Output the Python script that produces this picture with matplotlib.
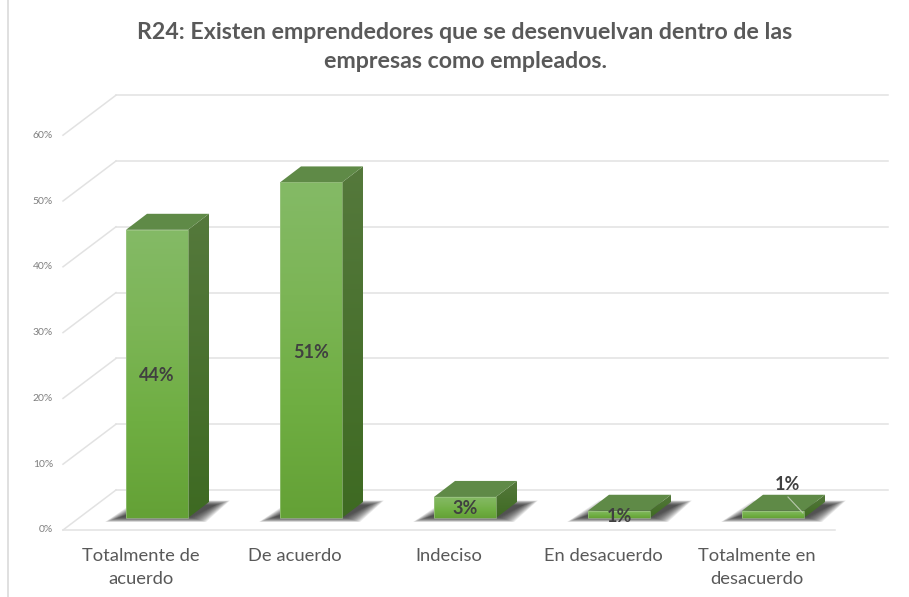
import numpy as np
from matplotlib import pyplot as plt
from matplotlib.colors import LinearSegmentedColormap

plt.rcParams['font.family'] = ['Lato', 'DejaVu Sans']

categories = ['Totalmente de\nacuerdo', 'De acuerdo', 'Indeciso', 'En desacuerdo', 'Totalmente en\ndesacuerdo']
values = [43.8, 51.0, 3.2, 1.1, 1.1]
value_labels = ['44%', '51%', '3%', '1%', '1%']
ticks = [0, 10, 20, 30, 40, 50, 60]
tick_labels = ['0%', '10%', '20%', '30%', '40%', '50%', '60%']
title = 'R24: Existen emprendedores que se desenvuelvan dentro de las\nempresas como empleados.'

W, H = 909, 597
PX_X = 154.0   # pixels for one category
PX_Y = 6.58    # pixels for one percent
X0, Y0 = 157, 518   # centre of first bar, base of bars

# one axes over the whole figure, scaled so categories and percent are the units
fig = plt.figure(figsize=(W / 100, H / 100), dpi=100)
ax = fig.add_axes([0, 0, 1, 1])
ax.axis('off')

def dx(px):
    return px / PX_X

def dy(px):
    return px / PX_Y

xlim = ((0 - X0) / PX_X, (W - X0) / PX_X)
ylim = ((Y0 - H) / PX_Y, Y0 / PX_Y)

# depth of the 3d effect
depth_x, depth_y = dx(21), dy(16)
bar_w = dx(62)

# gridlines: floor offset from the bar base
floor_front = dy(-12)
wall_x0 = dx(116 - X0)
wall_x1 = dx(888 - X0)
wall_dx, wall_dy = dx(53), dy(40)
grid_col = '#E2E2E2'
for t in ticks:
    yb = t + floor_front + wall_dy
    ax.plot([wall_x0 - wall_dx, wall_x0], [yb - wall_dy, yb], color=grid_col, lw=1.1, zorder=1)
    ax.plot([wall_x0, wall_x1], [yb, yb], color=grid_col, lw=1.1, zorder=1)
# front edge of the floor
ax.plot([wall_x0 - wall_dx, wall_x1 - wall_dx], [floor_front, floor_front], color=grid_col, lw=1.1, zorder=1)

for t, lab in zip(ticks, tick_labels):
    ax.text(dx(53 - X0), t + floor_front, lab, ha='right', va='center', fontsize=7.5, color='#7F7F7F')

# left edge of the pasted picture
ax.plot([dx(8.5 - X0)] * 2, [ylim[0], ylim[1]], color='#DADADA', lw=1.2, zorder=1)

front_cmap = LinearSegmentedColormap.from_list('front', ['#84BA66', '#7CB556', '#6FAE42', '#64A136'])
side_cmap = LinearSegmentedColormap.from_list('side', ['#55793C', '#3E6A22'])
grad = np.linspace(0, 1, 128).reshape(-1, 1)

for i, v in enumerate(values):
    left = i - bar_w / 2
    right = i + bar_w / 2

    # soft shadow on the floor, layered polygons
    for k in range(20):
        g = dx(12 - k * 0.8)
        gy = dy(3.5 - k * 0.25)
        sx = [left - dx(9) - g, right + dx(6) + g, right + depth_x + dx(9) + g, left + depth_x + dx(2) - g]
        sy = [dy(-0.5) - gy, dy(-0.5) - gy, depth_y - dy(2) + gy, depth_y - dy(2) + gy]
        ax.fill(sx, sy, color='#2A2A2A', alpha=0.075, lw=0, zorder=2)

    # front face
    bar = ax.bar(i, v, width=bar_w, color='none', edgecolor='#A9CC92', linewidth=0.4, zorder=4)[0]
    im = ax.imshow(grad, extent=(left, right, 0, v), aspect='auto',
                   cmap=front_cmap, origin='upper', zorder=3)
    im.set_clip_path(bar)

    # side face
    side = ax.fill([right, right + depth_x, right + depth_x, right],
                   [0, depth_y, v + depth_y, v], color='none', lw=0, zorder=3)[0]
    im2 = ax.imshow(grad, extent=(right, right + depth_x, 0, v + depth_y), aspect='auto',
                    cmap=side_cmap, origin='upper', zorder=3)
    im2.set_clip_path(side)

    # top face
    ax.fill([left, right, right + depth_x, left + depth_x],
            [v, v, v + depth_y, v + depth_y], color='#5F8A47', lw=0, zorder=3)

    ax.text(i - dx(16), dy(Y0 - 548), categories[i], ha='center', va='top', fontsize=13.2,
            color='#595959', linespacing=1.55)

# value labels
label_x = [0, 0, 0, 0, dx(15)]
label_y = [values[0] / 2 - dy(2), values[1] / 2 - dy(2), values[2] / 2 - dy(1), dy(2), dy(34)]
for i, lab in enumerate(value_labels):
    ax.text(i + label_x[i], label_y[i], lab, ha='center', va='center', fontsize=13,
            fontweight='bold', color='#404040', zorder=6)

# leader line of the last label
ax.plot([4 + dx(15), 4 + dx(30)], [dy(21), dy(5)], color='#B9C9AE', lw=0.8, zorder=5)

ax.text(dx(465 - X0), dy(Y0 - 47), title, ha='center', va='center', fontsize=16.7,
        fontweight='bold', color='#595959', linespacing=1.5, zorder=6)

ax.set_xlim(xlim)
ax.set_ylim(ylim)
fig.savefig('out.png', dpi=100)
